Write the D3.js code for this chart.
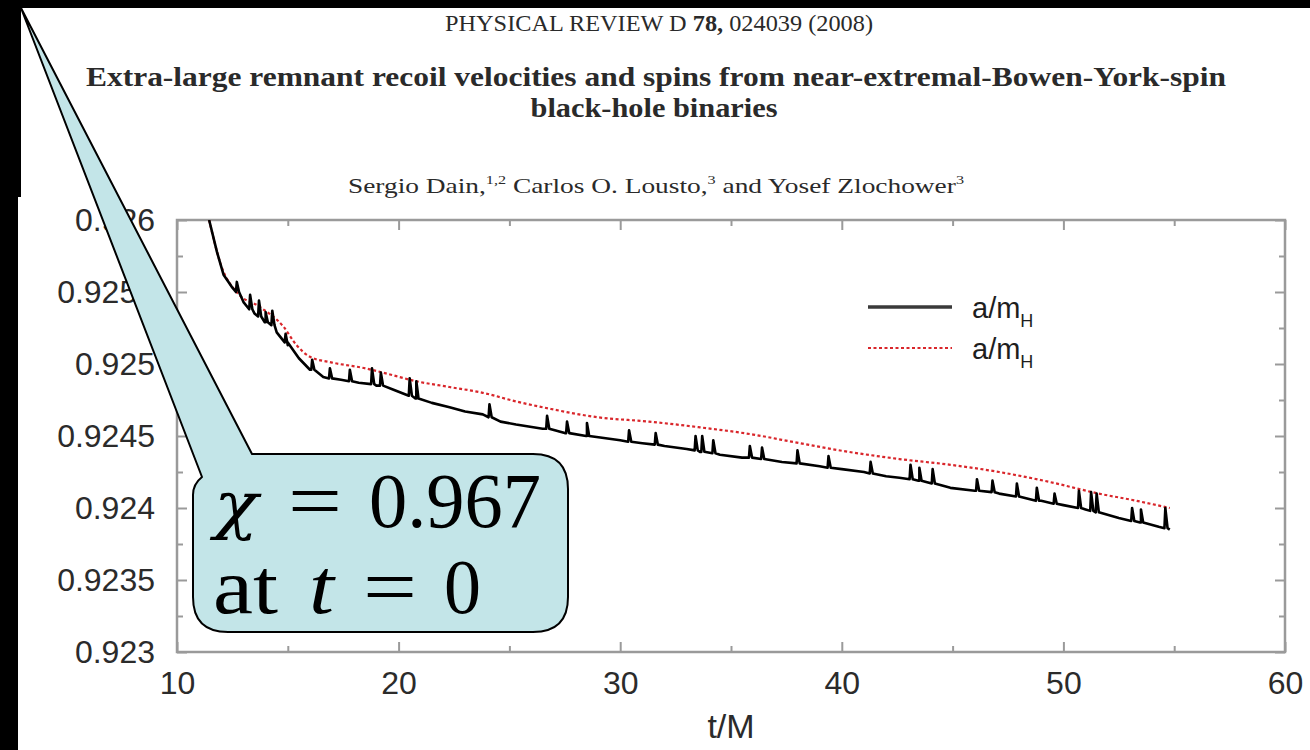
<!DOCTYPE html>
<html>
<head>
<meta charset="utf-8">
<script src="https://cdn.jsdelivr.net/npm/d3@7"></script>
<style>
  body { margin: 0; background: #000; }
  svg { display: block; }
</style>
</head>
<body>
<script>
// axis ticks
const xTicks = [10, 20, 30, 40, 50, 60]
const xMinorTicks = [15, 25, 35, 45, 55]
const yTicks = [0.923, 0.9235, 0.924, 0.9245, 0.925, 0.9255, 0.926]
const yTickLabels = ["0.923", "0.9235", "0.924", "0.9245", "0.925", "0.9255", "0.926"]
const yMinorTicks = [0.92325, 0.92375, 0.92425, 0.92475, 0.92525, 0.92575]

// black curve: [t/M, a/m_H]
const blackBase = [
  [11.45, 0.92600], [11.8, 0.92578], [12.1, 0.92562], [12.5, 0.92553], [13.0, 0.92543],
  [13.5, 0.92535], [14.0, 0.92529], [14.5, 0.92522], [15.0, 0.92513], [15.5, 0.92504],
  [16.0, 0.92496], [16.6, 0.92491], [17.4, 0.92489], [18.2, 0.92487], [19.0, 0.92485],
  [19.8, 0.92482], [20.8, 0.92476], [21.5, 0.92473], [22.3, 0.92470], [23.0, 0.92467],
  [23.8, 0.92465], [24.6, 0.92460], [25.3, 0.92458], [26.5, 0.92455], [27.5, 0.92452],
  [28.5, 0.92450], [29.1, 0.92449], [30.0, 0.92447], [31.0, 0.92445], [32.0, 0.92443],
  [33.0, 0.92441], [33.6, 0.92439], [34.5, 0.92437], [35.5, 0.92435], [36.5, 0.92434],
  [37.3, 0.92432], [38.1, 0.92431], [39.0, 0.92429], [40.0, 0.92427], [41.0, 0.92425],
  [42.0, 0.92422], [42.6, 0.92421], [43.5, 0.92419], [44.9, 0.92414], [46.0, 0.92412],
  [47.1, 0.92410], [48.0, 0.92408], [49.0, 0.92405], [50.0, 0.92402], [51.0, 0.92399],
  [51.6, 0.92397], [52.5, 0.92393], [53.5, 0.92390], [54.3, 0.92387], [54.8, 0.92385]
]
// spikes on the black curve: [t/M, foot, tip]
const blackSpikes = [
  [12.7, 0.92550, 0.92557], [13.3, 0.92538, 0.92548], [13.7, 0.92533, 0.92544],
  [14.0, 0.92529, 0.92536], [14.3, 0.92527, 0.92537], [14.9, 0.92515, 0.92521],
  [16.1, 0.92496, 0.92503], [16.9, 0.92490, 0.92497], [17.8, 0.92488, 0.92496],
  [18.8, 0.92486, 0.92497], [19.2, 0.92485, 0.92494], [20.5, 0.92478, 0.92490],
  [20.8, 0.92476, 0.92488], [24.1, 0.92463, 0.92472], [26.7, 0.92455, 0.92464],
  [27.6, 0.92452, 0.92460], [28.5, 0.92450, 0.92459], [30.4, 0.92446, 0.92454],
  [31.6, 0.92444, 0.92452], [33.4, 0.92440, 0.92450], [33.7, 0.92439, 0.92450],
  [34.2, 0.92438, 0.92447], [35.85, 0.92435, 0.92443], [36.4, 0.92434, 0.92442],
  [38.0, 0.92431, 0.92440], [39.4, 0.92428, 0.92436], [41.3, 0.92424, 0.92432],
  [43.1, 0.92420, 0.92430], [43.5, 0.92419, 0.92428], [44.1, 0.92417, 0.92427],
  [46.1, 0.92412, 0.92420], [46.8, 0.92411, 0.92419], [47.9, 0.92408, 0.92417],
  [48.8, 0.92405, 0.92414], [49.6, 0.92403, 0.92410], [50.7, 0.92400, 0.92412],
  [51.25, 0.92398, 0.92411], [51.5, 0.92397, 0.92410], [53.1, 0.92391, 0.92400],
  [53.5, 0.92390, 0.92399], [54.6, 0.92386, 0.92400]
]
// red dotted curve
const redLine = [
  [11.45, 0.92600], [12.0, 0.92568], [12.75, 0.92549], [13.7, 0.92540], [14.8, 0.92526],
  [15.4, 0.92513], [16.0, 0.92505], [17.0, 0.92501], [18.5, 0.92497], [19.3, 0.92494],
  [20.8, 0.92488], [22.3, 0.92484], [23.8, 0.92480], [25.3, 0.92474], [26.8, 0.92469],
  [29.0, 0.92463], [31.3, 0.92460], [33.6, 0.92456], [36.0, 0.92451], [38.1, 0.92445],
  [40.3, 0.92439], [42.6, 0.92434], [44.9, 0.92430], [47.1, 0.92425], [49.4, 0.92418],
  [51.6, 0.92410], [53.3, 0.92405], [54.8, 0.92400]
]
const legendLabels = ["a/m", "a/m"]

const W = 1310, H = 750
const plot = {left: 177, right: 1285, top: 220, bottom: 652}
const axisGrey = "#9a9a9a"
const sans = "'Liberation Sans', Arial, Helvetica, sans-serif"
const serif = "'Liberation Serif', 'Times New Roman', serif"

const svg = d3.select("body").append("svg")
  .attr("width", W).attr("height", H)

svg.append("rect").attr("width", W).attr("height", H).attr("fill", "#000")
svg.append("rect").attr("x", 21).attr("y", 8).attr("width", W - 21).attr("height", 190).attr("fill", "#fff")
svg.append("rect").attr("x", 18).attr("y", 197).attr("width", W - 18).attr("height", H - 197).attr("fill", "#fff")

// paper header (the scan is stretched sideways, so the glyphs are too)
const head = svg.append("g").attr("fill", "#2a2a2a").attr("font-family", serif)
const prd = head.append("text").attr("x", 659).attr("y", 31).attr("text-anchor", "middle")
  .attr("font-size", 23).attr("textLength", 428).attr("lengthAdjust", "spacingAndGlyphs")
prd.append("tspan").text("PHYSICAL REVIEW D ")
prd.append("tspan").attr("font-weight", "bold").text("78,")
prd.append("tspan").text(" 024039 (2008)")

head.append("text").attr("x", 656).attr("y", 86).attr("text-anchor", "middle")
  .attr("font-size", 27).attr("font-weight", "bold")
  .attr("textLength", 1140).attr("lengthAdjust", "spacingAndGlyphs")
  .text("Extra-large remnant recoil velocities and spins from near-extremal-Bowen-York-spin")
head.append("text").attr("x", 654).attr("y", 117).attr("text-anchor", "middle")
  .attr("font-size", 27).attr("font-weight", "bold")
  .attr("textLength", 247).attr("lengthAdjust", "spacingAndGlyphs")
  .text("black-hole binaries")

const auth = head.append("text").attr("x", 656).attr("y", 193).attr("text-anchor", "middle")
  .attr("font-size", 22).attr("textLength", 616).attr("lengthAdjust", "spacingAndGlyphs")
auth.append("tspan").text("Sergio Dain,")
auth.append("tspan").attr("font-size", 13).attr("dy", -9).text("1,2")
auth.append("tspan").attr("dy", 9).text(" Carlos O. Lousto,")
auth.append("tspan").attr("font-size", 13).attr("dy", -9).text("3")
auth.append("tspan").attr("dy", 9).text(" and Yosef Zlochower")
auth.append("tspan").attr("font-size", 13).attr("dy", -9).text("3")

// scales
const x = d3.scaleLinear().domain([10, 60]).range([plot.left, plot.right])
const y = d3.scaleLinear().domain([0.923, 0.926]).range([plot.bottom, plot.top])

const styleAxis = g => {
  g.select(".domain").remove()
  g.selectAll("line").attr("stroke", axisGrey).attr("stroke-width", 2)
  g.selectAll("text").attr("fill", "#2b2b2b").attr("font-family", sans).attr("font-size", 32)
}

svg.append("rect")
  .attr("x", plot.left).attr("y", plot.top)
  .attr("width", plot.right - plot.left).attr("height", plot.bottom - plot.top)
  .attr("fill", "none").attr("stroke", axisGrey).attr("stroke-width", 2.5)

svg.append("g").attr("transform", `translate(0,${plot.bottom})`)
  .call(d3.axisBottom(x).tickValues(xTicks).tickSizeInner(-10).tickSizeOuter(0).tickPadding(19).tickFormat(d3.format("d")))
  .call(styleAxis)
svg.append("g").attr("transform", `translate(0,${plot.bottom})`)
  .call(d3.axisBottom(x).tickValues(xMinorTicks).tickSizeInner(-6).tickSizeOuter(0).tickFormat(""))
  .call(styleAxis)
svg.append("g").attr("transform", `translate(0,${plot.top})`)
  .call(d3.axisTop(x).tickValues(xTicks).tickSizeInner(-10).tickSizeOuter(0).tickFormat(""))
  .call(styleAxis)
svg.append("g").attr("transform", `translate(0,${plot.top})`)
  .call(d3.axisTop(x).tickValues(xMinorTicks).tickSizeInner(-6).tickSizeOuter(0).tickFormat(""))
  .call(styleAxis)

svg.append("g").attr("transform", `translate(${plot.left},0)`)
  .call(d3.axisLeft(y).tickValues(yTicks).tickSizeInner(-10).tickSizeOuter(0).tickPadding(22)
    .tickFormat((d, i) => yTickLabels[i]))
  .call(styleAxis)
svg.append("g").attr("transform", `translate(${plot.left},0)`)
  .call(d3.axisLeft(y).tickValues(yMinorTicks).tickSizeInner(-6).tickSizeOuter(0).tickFormat(""))
  .call(styleAxis)
svg.append("g").attr("transform", `translate(${plot.right},0)`)
  .call(d3.axisRight(y).tickValues(yTicks).tickSizeInner(-10).tickSizeOuter(0).tickFormat(""))
  .call(styleAxis)
svg.append("g").attr("transform", `translate(${plot.right},0)`)
  .call(d3.axisRight(y).tickValues(yMinorTicks).tickSizeInner(-6).tickSizeOuter(0).tickFormat(""))
  .call(styleAxis)

svg.append("text")
  .attr("x", (plot.left + plot.right) / 2).attr("y", 738)
  .attr("text-anchor", "middle").attr("font-family", sans).attr("font-size", 34)
  .attr("fill", "#2b2b2b").text("t/M")

// curves
svg.append("clipPath").attr("id", "clip").append("rect")
  .attr("x", plot.left).attr("y", plot.top)
  .attr("width", plot.right - plot.left).attr("height", plot.bottom - plot.top)

let blackData = blackBase.slice()
blackSpikes.forEach(s => {
  blackData.push([s[0] - 0.04, s[1]], [s[0], s[2]], [s[0] + 0.1, s[1]])
})
blackData.sort((a, b) => a[0] - b[0])

const curves = svg.append("g").attr("clip-path", "url(#clip)")
curves.append("path").datum(redLine)
  .attr("d", d3.line().x(d => x(d[0])).y(d => y(d[1])).curve(d3.curveMonotoneX))
  .attr("fill", "none").attr("stroke", "#d9262b").attr("stroke-width", 2.2)
  .attr("stroke-dasharray", "3,2.5")
curves.append("path").datum(blackData)
  .attr("d", d3.line().x(d => x(d[0])).y(d => y(d[1])))
  .attr("fill", "none").attr("stroke", "#000").attr("stroke-width", 2.6)
  .attr("stroke-linejoin", "round")

// legend
const legend = svg.append("g").attr("font-family", sans).attr("fill", "#1e1e1e")
const legendY = [307, 348]
legend.append("line").attr("x1", 868).attr("x2", 952).attr("y1", legendY[0]).attr("y2", legendY[0])
  .attr("stroke", "#3a3a3a").attr("stroke-width", 3.5)
legend.append("line").attr("x1", 868).attr("x2", 952).attr("y1", legendY[1]).attr("y2", legendY[1])
  .attr("stroke", "#d9262b").attr("stroke-width", 2.2).attr("stroke-dasharray", "3,2.5")
legendLabels.forEach((lab, i) => {
  const t = legend.append("text").attr("x", 972).attr("y", legendY[i] + 11).attr("font-size", 29)
  t.append("tspan").text(lab)
  t.append("tspan").attr("font-size", 18).attr("dy", 9).text("H")
})

// callout bubble pointing at the corner
const tip = [21, 8]
const bx0 = 193, by0 = 454, bx1 = 568, by1 = 632, r = 35
const p = d3.path()
p.moveTo(252, by0)
p.lineTo(bx1 - r, by0)
p.quadraticCurveTo(bx1, by0, bx1, by0 + r)
p.lineTo(bx1, by1 - r)
p.quadraticCurveTo(bx1, by1, bx1 - r, by1)
p.lineTo(bx0 + r, by1)
p.quadraticCurveTo(bx0, by1, bx0, by1 - r)
p.lineTo(bx0, 495)
p.quadraticCurveTo(bx0, 484, 202, 477)
p.lineTo(tip[0], tip[1])
p.closePath()
svg.append("path").attr("d", p.toString())
  .attr("fill", "#c3e5e8").attr("stroke", "#000").attr("stroke-width", 2).attr("stroke-linejoin", "round")

// each piece of the formula fitted to its width in the picture
const notePieces = [
  {text: "χ", x: 214, w: 44, y: 527, size: 64, italic: true, font: "'DejaVu Serif', serif"},
  {text: "=", x: 288, w: 54, y: 527, size: 78},
  {text: "0.967", x: 369, w: 172, y: 527, size: 78},
  {text: "at", x: 213, w: 65, y: 613, size: 78},
  {text: "t", x: 309, w: 25, y: 613, size: 78, italic: true},
  {text: "=", x: 363, w: 54, y: 613, size: 78},
  {text: "0", x: 444, w: 37, y: 613, size: 78}
]
svg.append("g").attr("fill", "#000")
  .selectAll("text").data(notePieces).join("text")
  .attr("x", d => d.x).attr("y", d => d.y)
  .attr("font-family", d => d.font || serif)
  .attr("font-size", d => d.size)
  .attr("font-style", d => d.italic ? "italic" : "normal")
  .attr("textLength", d => d.w).attr("lengthAdjust", "spacingAndGlyphs")
  .text(d => d.text)
</script>
</body>
</html>
